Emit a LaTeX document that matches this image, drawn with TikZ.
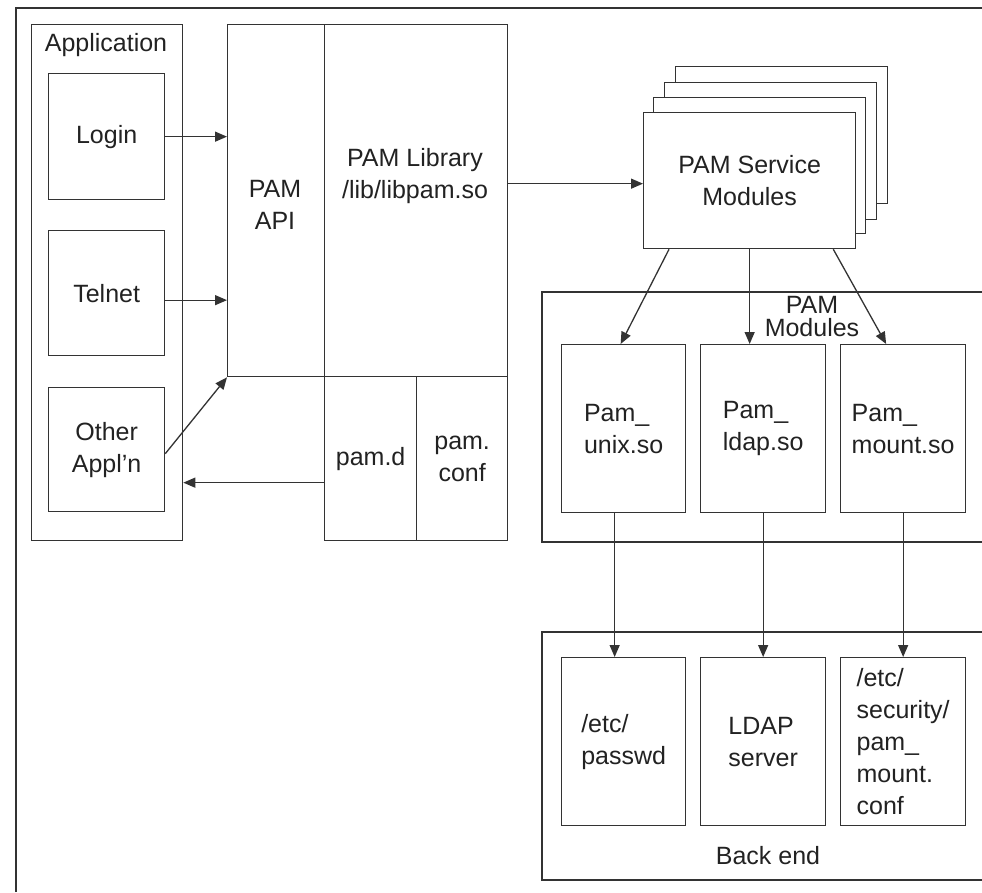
\documentclass[tikz,border=0pt]{standalone}
\usepackage{fontspec}
\setmainfont{Liberation Sans}
\usetikzlibrary{arrows.meta}
\definecolor{linec}{HTML}{333333}
\definecolor{textc}{HTML}{222222}
\begin{document}
\begin{tikzpicture}[x=1pt,y=-1pt,
  box/.style={draw=linec, line width=1.3pt, fill=white, inner sep=0pt, anchor=north west,
    font=\fontsize{25}{32}\selectfont, text=textc, align=center},
  lbl/.style={inner sep=0pt, font=\fontsize{25}{32}\selectfont, text=textc, align=center},
  frame/.style={draw=linec, line width=1.3pt},
  arr/.style={draw=linec, line width=1.3pt, -{Triangle[length=12pt,width=10pt]}},
]
\useasboundingbox (0,0) rectangle (982,892);
% outer frame (clipped)
\draw[frame] (16,892) -- (16,8) -- (982,8);
% Application group
\node[box, minimum width=151pt, minimum height=516pt] (app) at (31,24) {};
\node[lbl] (applbl) at (106,45) {Application};
\node[box, minimum width=116pt, minimum height=126pt] (login) at (48,73) {Login};
\node[box, minimum width=116pt, minimum height=125pt] (telnet) at (48,230) {Telnet};
\node[box, minimum width=116pt, minimum height=124pt] (other) at (48,387) {Other\\Appl'n};
% PAM API / Library
\node[box, minimum width=97pt, minimum height=352pt] (api) at (227,24) {};
\node[lbl] (apitxt) at (275,205) {PAM\\API};
\node[box, minimum width=183pt, minimum height=352pt] (lib) at (324,24) {};
\node[lbl] (libtxt) at (415,176) {PAM Library\\/lib/libpam.so};
\node[box, minimum width=92pt, minimum height=164pt] (pamd) at (324,376) {pam.d};
\node[box, minimum width=91pt, minimum height=164pt] (pamconf) at (416,376) {pam.\\conf};
% PAM Service Modules stack
\node[box, minimum width=212pt, minimum height=137pt] (psm3) at (675,66) {};
\node[box, minimum width=212pt, minimum height=137pt] (psm2) at (664,82) {};
\node[box, minimum width=212pt, minimum height=136pt] (psm1) at (653,97) {};
\node[box, minimum width=212pt, minimum height=136pt] (psm) at (643,112) {PAM Service\\Modules};
% PAM Modules container
\draw[frame] (982,292) -- (542,292) -- (542,542) -- (982,542);
\node[lbl, font=\fontsize{25}{23}\selectfont] (pmtitle) at (812,317) {PAM\\Modules};
\node[box, minimum width=124pt, minimum height=168pt, align=left] (unix) at (561,344) {Pam\_\\unix.so};
\node[box, minimum width=125pt, minimum height=168pt, align=left] (ldap) at (700,344) {Pam\_\\ldap.so};
\node[box, minimum width=125pt, minimum height=168pt, align=left] (mount) at (840,344) {Pam\_\\mount.so};
% Back end container
\draw[frame] (982,632) -- (542,632) -- (542,880) -- (982,880);
\node[lbl] (betitle) at (768,856) {Back end};
\node[box, minimum width=124pt, minimum height=168pt, align=left] (passwd) at (561,657) {/etc/\\passwd};
\node[box, minimum width=125pt, minimum height=168pt, align=left] (ldapsrv) at (700,657) {LDAP\\server};
\node[box, minimum width=125pt, minimum height=168pt, align=left] (mconf) at (840,657) {/etc/\\security/\\pam\_\\mount.\\conf};
% connectors
\draw[arr] (login.east) -- (login.east -| api.west);
\draw[arr] ([yshift=-7pt]telnet.east) -- ([yshift=-7pt]telnet.east -| api.west);
\draw[arr] ([yshift=-4pt]other.east) -- (api.south west);
\draw[arr] ([yshift=-24pt]pamd.west) -- ([yshift=-24pt]pamd.west -| app.east);
\draw[arr] ([yshift=17pt]lib.east) -- ([yshift=17pt]lib.east -| psm.west);
\draw[arr] ([xshift=26pt]psm.south west) -- ([xshift=-3pt]unix.north);
\draw[arr] (psm.south) -- (psm.south |- ldap.north);
\draw[arr] ([xshift=-23pt]psm.south east) -- ([xshift=-17pt]mount.north);
\draw[arr] ([xshift=-9pt]unix.south) -- ([xshift=-9pt]unix.south |- passwd.north);
\draw[arr] (ldap.south) -- (ldap.south |- ldapsrv.north);
\draw[arr] (mount.south) -- (mount.south |- mconf.north);
\end{tikzpicture}
\end{document}
